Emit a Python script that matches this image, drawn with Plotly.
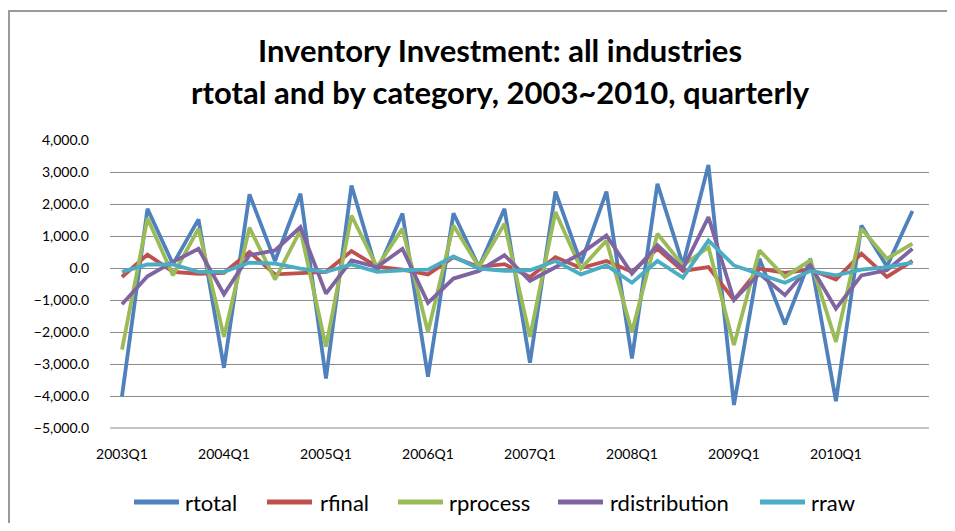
import plotly.graph_objects as go

quarters = [f"{y}Q{q}" for y in range(2003, 2011) for q in range(1, 5)]
tick_labels = [f"{y}Q1" for y in range(2003, 2011)]

rtotal = [-4010, 1850, 120, 1520, -3120, 2300, 220, 2320, -3450, 2580,
          -120, 1700, -3400, 1710, 30, 1850, -2960, 2390, 150, 2390,
          -2830, 2630, 100, 3220, -4280, 290, -1760, 290, -4160, 1330,
          50, 1780]
rfinal = [-280, 420, -120, -180, -150, 500, -200, -150, -120, 530,
          40, -50, -200, 340, 30, 120, -280, 340, 0, 220,
          -120, 600, -90, 30, -1000, -20, -150, -50, -360, 450,
          -280, 220]
rprocess = [-2550, 1560, -230, 1230, -2150, 1260, -360, 1180, -2460, 1640,
            30, 1230, -2000, 1330, 30, 1380, -2150, 1750, -20, 860,
            -2000, 1070, 80, 650, -2410, 550, -280, 240, -2310, 1230,
            290, 760]
rdistribution = [-1130, -260, 190, 600, -820, 400, 550, 1280, -800, 240,
                 30, 600, -1090, -330, -90, 400, -400, 30, 450, 1020,
                 -180, 710, -20, 1590, -1000, -180, -850, 80, -1270, -230,
                 -70, 600]
rraw = [-120, 110, 110, -120, -120, 170, 140, -20, -120, 110,
        -120, -70, -50, 360, -20, -90, -70, 220, -200, 80,
        -460, 220, -300, 860, 80, -200, -460, -90, -230, -50,
        30, 170]

series_names = ["rtotal", "rfinal", "rprocess", "rdistribution", "rraw"]
series_values = [rtotal, rfinal, rprocess, rdistribution, rraw]
series_colors = ["#4F81BD", "#C0504D", "#9BBB59", "#8064A2", "#4BACC6"]

FONT = "Lato, Noto Sans, sans-serif"

# page offset (browser body margin); figure sized to fit the window without scrolling
OFF = 8
PAGE_W, PAGE_H = 955, 531
W, H = PAGE_W - 2 * OFF, PAGE_H - 2 * OFF
L, T = 110 - OFF, 140 - OFF
R = W - (929 - OFF)
B = H - (428 - OFF)
pw = W - L - R
ph = H - T - B


def px_x(x):
    return (x - OFF - L) / pw


def px_y(y):
    return (H - B - (y - OFF)) / ph


fig = go.Figure()
for name, vals, color in zip(series_names, series_values, series_colors):
    fig.add_trace(go.Scatter(
        x=quarters, y=vals, name=name, mode="lines",
        line=dict(color=color, width=3.8),
        showlegend=False,
    ))

# custom legend (page-pixel positions of line start and text start)
legend_line_x = [132, 265, 396, 556, 758]
legend_text_x = [183, 318, 447, 608, 809]
legend_y = 502
shapes = []
annotations = []
for name, color, lx, tx in zip(series_names, series_colors, legend_line_x, legend_text_x):
    shapes.append(dict(type="line", xref="paper", yref="paper",
                       x0=px_x(lx + 2), x1=px_x(lx + 47),
                       y0=px_y(legend_y), y1=px_y(legend_y),
                       line=dict(color=color, width=5)))
    annotations.append(dict(text=name, xref="paper", yref="paper",
                            x=px_x(tx), y=px_y(legend_y),
                            xanchor="left", yanchor="middle", showarrow=False,
                            font=dict(size=22, family=FONT, color="#000000")))

annotations += [
    dict(text="<b>Inventory Investment: all industries</b>",
         xref="paper", yref="paper", x=px_x(500), y=px_y(50),
         xanchor="center", yanchor="middle", showarrow=False,
         font=dict(size=31, family=FONT, color="#000000")),
    dict(text="<b>rtotal and by category, 2003~2010, quarterly</b>",
         xref="paper", yref="paper", x=px_x(500), y=px_y(92),
         xanchor="center", yanchor="middle", showarrow=False,
         font=dict(size=31, family=FONT, color="#000000")),
]

shapes += [
    dict(type="line", xref="paper", yref="paper",
         x0=0, x1=1, y0=0, y1=0, line=dict(color="#8C8C8C", width=1)),
    # chart-area border: top and left edges
    dict(type="line", xref="paper", yref="paper",
         x0=px_x(8), x1=px_x(PAGE_W), y0=px_y(11), y1=px_y(11),
         line=dict(color="#9A9A9A", width=2), layer="below"),
    dict(type="line", xref="paper", yref="paper",
         x0=px_x(9), x1=px_x(9), y0=px_y(10), y1=px_y(PAGE_H),
         line=dict(color="#9A9A9A", width=2), layer="below"),
]

fig.update_layout(
    width=W, height=H,
    margin=dict(l=L, r=R, t=T, b=B, pad=0),
    paper_bgcolor="white", plot_bgcolor="white",
    font=dict(family=FONT, color="#000000", size=14),
    showlegend=False,
    xaxis=dict(
        type="category", categoryorder="array", categoryarray=quarters,
        range=[-0.47, 31.65],
        tickmode="array", tickvals=tick_labels, ticktext=tick_labels,
        showgrid=False, showline=False, zeroline=False,
        ticks="", ticklabelstandoff=16,
        tickfont=dict(size=14, family=FONT),
    ),
    yaxis=dict(
        range=[-5000, 4000], dtick=1000, tick0=0,
        tickformat=",.1f",
        showgrid=True, gridcolor="#8C8C8C", gridwidth=1,
        zeroline=False, showline=False,
        ticks="", ticklabelstandoff=20,
        tickfont=dict(size=14, family=FONT),
    ),
    annotations=annotations,
    shapes=shapes,
)

fig.write_html(
    "out.html",
    post_script="document.documentElement.style.overflow='hidden';"
                "document.body.style.overflow='hidden';",
)
